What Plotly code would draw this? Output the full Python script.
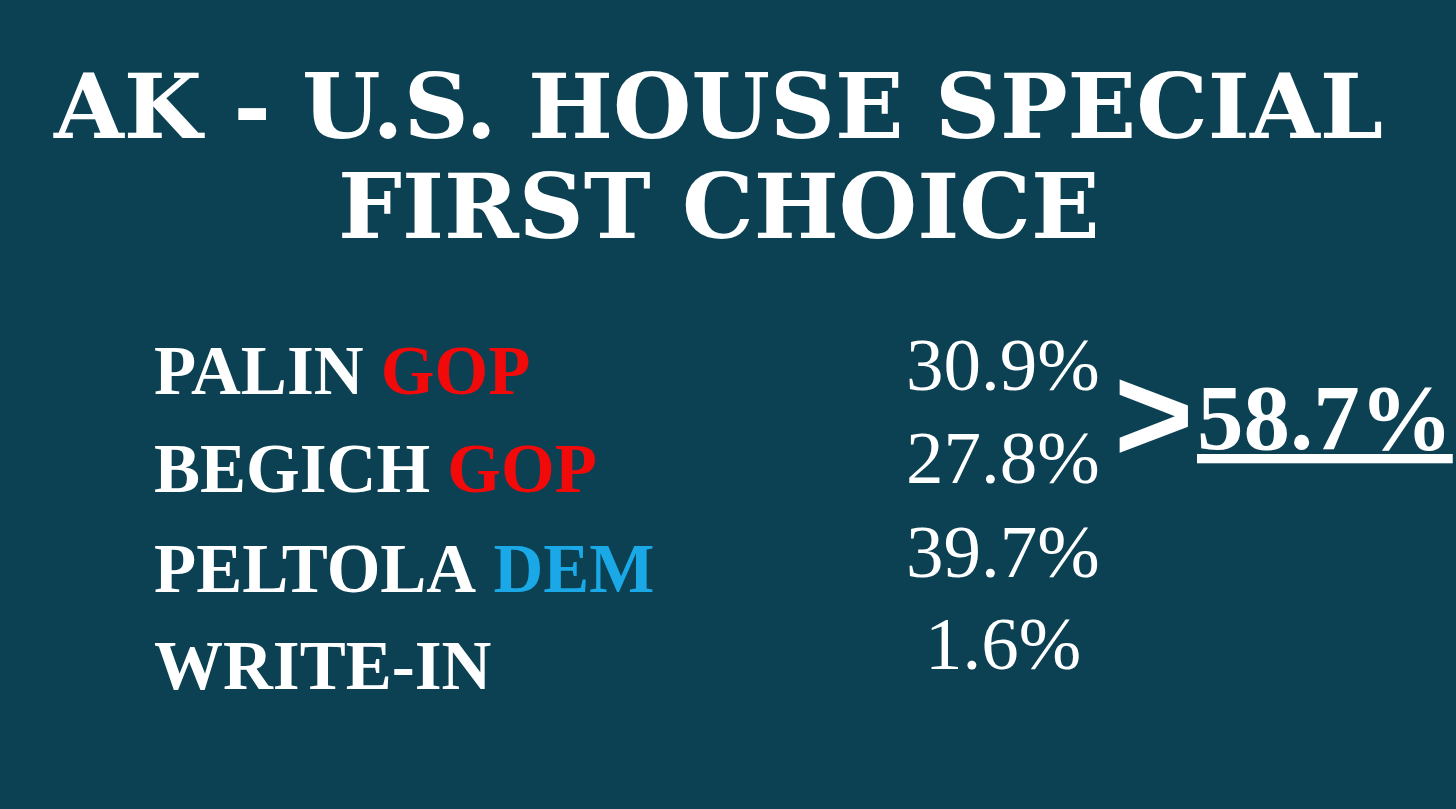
import plotly.graph_objects as go

# Alaska special election, first-choice results
title_lines = ["AK - U.S. HOUSE SPECIAL", "FIRST CHOICE"]
candidates = ["PALIN", "BEGICH", "PELTOLA", "WRITE-IN"]
parties = ["GOP", "GOP", "DEM", ""]
shares = [30.9, 27.8, 39.7, 1.6]
gop_combined = 58.7

party_colors = {"GOP": "#f20a0a", "DEM": "#1ba8e6", "": "white"}
BG = "#0b4152"

W, H = 1456, 809
name_font = dict(family="Liberation Serif", size=69, color="white")
num_font = dict(family="Liberation Serif", size=75, color="white")

row_y = [371, 469, 569, 666]
num_y = [364, 457, 551, 643]

fig = go.Figure()

annotations = []

# Title
for txt, y in zip(title_lines, [106, 206]):
    annotations.append(dict(
        x=718, y=y, text="<b>" + txt + "</b>", showarrow=False,
        xanchor="center", yanchor="middle",
        font=dict(family="DejaVu Serif", size=90, color="white"),
    ))

# Candidate names with party tags
for name, party, y in zip(candidates, parties, row_y):
    label = "<b>" + name + "</b>"
    if party:
        label += " <b><span style='color:%s'>%s</span></b>" % (party_colors[party], party)
    annotations.append(dict(
        x=152, y=y, text=label, showarrow=False,
        xanchor="left", yanchor="middle", font=name_font,
    ))

# Vote shares
for s, y in zip(shares, num_y):
    annotations.append(dict(
        x=1003, y=y, text="%.1f%%" % s, showarrow=False,
        xanchor="center", yanchor="middle", font=num_font,
    ))

# Combined GOP share
annotations.append(dict(
    x=1153, y=414, text="<b>&gt;</b>", showarrow=False,
    xanchor="center", yanchor="middle",
    font=dict(family="Liberation Sans", size=136, color="white"),
))
annotations.append(dict(
    x=1195, y=417, text="<b><u>%.1f%%</u></b>" % gop_combined, showarrow=False,
    xanchor="left", yanchor="middle",
    font=dict(family="Liberation Serif", size=93, color="white"),
))

fig.update_layout(
    width=W, height=H,
    margin=dict(l=0, r=0, t=0, b=0),
    paper_bgcolor=BG, plot_bgcolor=BG,
    xaxis=dict(range=[0, W], visible=False, fixedrange=True),
    yaxis=dict(range=[H, 0], visible=False, fixedrange=True),
    showlegend=False,
    annotations=annotations,
)

fig.write_html(
    "out.html",
    config={"displayModeBar": False},
    post_script="document.body.style.margin='0';document.body.style.background='%s';" % BG,
)
